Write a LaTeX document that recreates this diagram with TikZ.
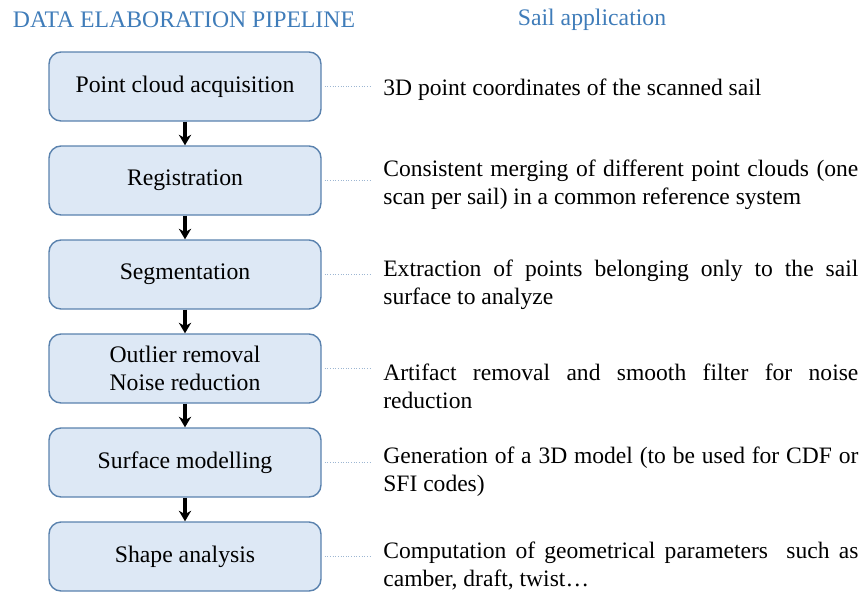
\documentclass[tikz,border=0pt]{standalone}
\usepackage{fontspec}
\setmainfont{Liberation Serif}
\usetikzlibrary{arrows.meta}
\definecolor{stepfill}{HTML}{DDE8F5}
\definecolor{stepline}{HTML}{5A82AE}
\definecolor{headblue}{HTML}{3F7CB9}
\definecolor{dotblue}{HTML}{9DB6D2}
\hyphenpenalty=10000
\exhyphenpenalty=10000

\begin{document}
\begin{tikzpicture}[
    stepbox/.style={draw=stepline, fill=stepfill, line width=0.8pt, rounded corners=0.24cm,
        minimum width=5.44cm, minimum height=1.38cm, align=center,
        font=\fontsize{13.5}{15.9}\selectfont},
    note/.style={anchor=west, inner sep=0pt, text width=9.5cm, align=justify,
        font=\fontsize{13.4}{15.9}\selectfont},
    head/.style={text=headblue, font=\fontsize{13.5}{15}\selectfont},
    flow/.style={-{Stealth[length=6pt,width=7pt]}, line width=2pt},
    link/.style={dotblue, densely dotted, line width=0.5pt, shorten <=0.06cm, shorten >=0.22cm}]
    \useasboundingbox (0,0) rectangle (17.3,-11.86);
    % headings
    \node[head] (hpipe) at (3.68,-0.40) {DATA ELABORATION PIPELINE};
    \node[head] (hsail) at (11.84,-0.40) {Sail application};
    % pipeline steps
    \node[stepbox] (acq) at (3.7,-1.73) {Point cloud acquisition};
    \node[stepbox] (reg) at (3.7,-3.61) {Registration};
    \node[stepbox] (seg) at (3.7,-5.49) {Segmentation};
    \node[stepbox] (out) at (3.7,-7.37) {Outlier removal\\Noise reduction};
    \node[stepbox] (srf) at (3.7,-9.25) {Surface modelling};
    \node[stepbox] (shp) at (3.7,-11.13) {Shape analysis};
    \draw[flow] (acq) -- (reg);
    \draw[flow] (reg) -- (seg);
    \draw[flow] (seg) -- (out);
    \draw[flow] (out) -- (srf);
    \draw[flow] (srf) -- (shp);
    % descriptions on the right
    \node[note] (dacq) at (7.66,-1.80) {3D point coordinates of the scanned sail};
    \node[note] (dreg) at (7.66,-3.70) {Consistent merging of different point clouds (one scan per sail) in a common reference system};
    \node[note] (dseg) at (7.66,-5.70) {Extraction of points belonging only to the sail surface to analyze};
    \node[note] (dout) at (7.66,-7.72) {Artifact removal and smooth filter for noise reduction};
    \node[note] (dsrf) at (7.66,-9.44) {Generation of a 3D model (to be used for CDF or SFI codes)};
    \node[note] (dshp) at (7.66,-11.32) {Computation of geometrical parameters\ \ such as camber, draft, twist\ldots};
    \draw[link] (acq.east) -- (dacq.west |- acq.east);
    \draw[link] (reg.east) -- (dreg.west |- reg.east);
    \draw[link] (seg.east) -- (dseg.west |- seg.east);
    \draw[link] (out.east) -- (dout.west |- out.east);
    \draw[link] (srf.east) -- (dsrf.west |- srf.east);
    \draw[link] (shp.east) -- (dshp.west |- shp.east);
\end{tikzpicture}
\end{document}
